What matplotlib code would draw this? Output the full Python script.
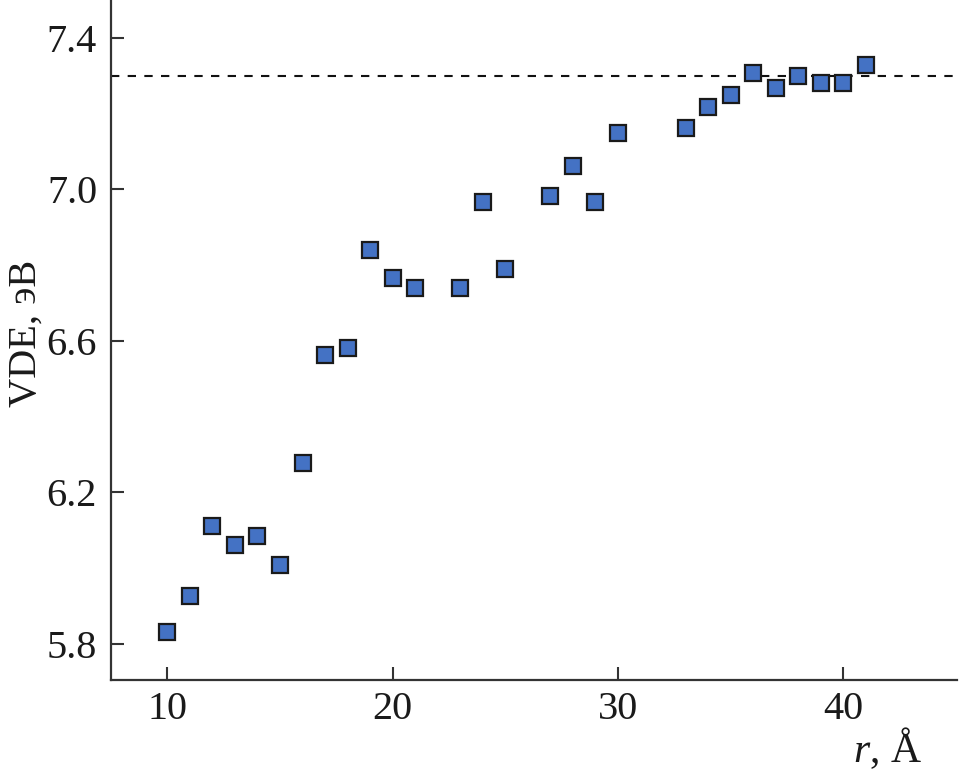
import matplotlib
matplotlib.use("Agg")
import matplotlib.pyplot as plt

r_values = [10, 11, 12, 13, 14, 15, 16, 17, 18, 19, 20, 21, 23, 24, 25, 27, 28, 29, 30,
            33, 34, 35, 36, 37, 38, 39, 40, 41]
vde_values = [5.832, 5.927, 6.112, 6.061, 6.085, 6.009, 6.277, 6.563, 6.582, 6.839,
              6.765, 6.741, 6.741, 6.968, 6.791, 6.982, 7.063, 6.966, 7.148,
              7.162, 7.218, 7.250, 7.308, 7.268, 7.300, 7.282, 7.282, 7.329]
limit_value = 7.3
x_ticks = [10, 20, 30, 40]
y_ticks = [5.8, 6.2, 6.6, 7.0, 7.4]

plt.rcParams['font.family'] = ['Liberation Serif', 'DejaVu Serif']
plt.rcParams['mathtext.fontset'] = 'custom'
plt.rcParams['mathtext.it'] = 'Liberation Serif:italic'
plt.rcParams['mathtext.rm'] = 'Liberation Serif'

fig = plt.figure(figsize=(9.62, 7.76), dpi=100)
ax = fig.add_axes([111/962, 96/776, (957-111)/962, 680/776])

ax.axhline(limit_value, color='#111111', lw=1.5, linestyle=(0, (4, 4)), zorder=1)
ax.plot(r_values, vde_values, linestyle='none', marker='s', markersize=11,
        markerfacecolor='#4472c4', markeredgecolor='#1a1a1a', markeredgewidth=1.6, zorder=3)

ax.set_xlim(7.5, 45.05)
ax.set_ylim(5.705, 7.5)
ax.set_xticks(x_ticks)
ax.set_yticks(y_ticks)
ax.set_yticklabels([f"{v:.1f}" for v in y_ticks])

for s in ['top', 'right']:
    ax.spines[s].set_visible(False)
for s in ['left', 'bottom']:
    ax.spines[s].set_linewidth(1.6)
    ax.spines[s].set_color('#333333')

ax.tick_params(direction='in', length=9.5, width=1.5, colors='#333333',
               labelsize=29, labelcolor='#1a1a1a')
ax.tick_params(axis='y', pad=10)
ax.tick_params(axis='x', pad=8)

ax.set_ylabel('VDE, эВ', fontsize=29, color='#1a1a1a')
ax.yaxis.set_label_coords(-0.079, 0.51)
ax.set_xlabel(r'$\mathit{r}$, Å', fontsize=30, color='#1a1a1a')
ax.xaxis.set_label_coords(0.9586, -0.066)
ax.xaxis.label.set_horizontalalignment('right')

fig.savefig('out.png', dpi=100)
